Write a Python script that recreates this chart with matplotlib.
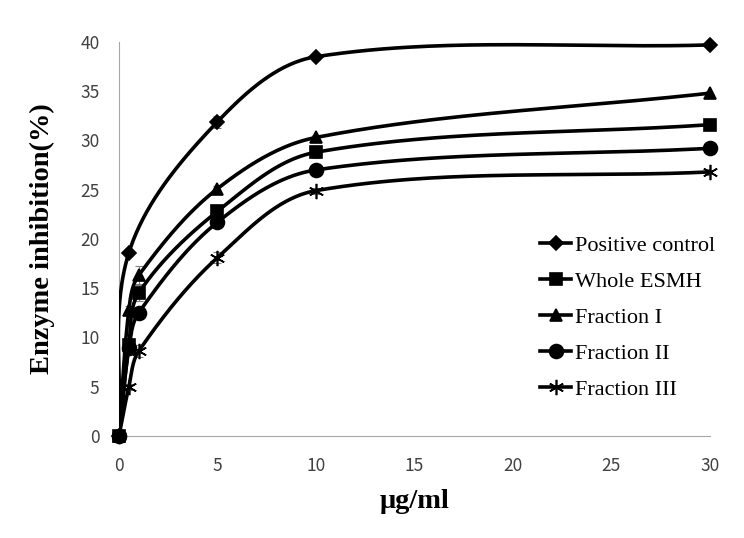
import numpy as np
import matplotlib.pyplot as plt

# concentrations (ug/ml)
x_pc = [0, 0.5, 5, 10, 30]
x_fr = [0, 0.5, 1, 5, 10, 30]

pos_control = [0, 18.6, 31.9, 38.5, 39.7]
pos_err = [0, 0.3, 0.6, 0.3, 0.2]
whole_esmh = [0, 9.2, 14.5, 22.8, 28.8, 31.6]
whole_err = [0, 0.4, 0.8, 0.4, 0.6, 0.2]
frac1 = [0, 12.8, 16.3, 25.1, 30.3, 34.8]
frac1_err = [0, 0.4, 0.9, 0.3, 0.3, 0.2]
frac2 = [0, 8.9, 12.5, 21.7, 27.0, 29.2]
frac2_err = [0, 0.3, 0.4, 0.3, 0.6, 0.2]
frac3 = [0, 5.0, 8.6, 18.1, 24.9, 26.8]
frac3_err = [0, 0.3, 0.6, 0.6, 0.3, 0.3]

labels = ['Positive control', 'Whole ESMH', 'Fraction I', 'Fraction II', 'Fraction III']
markers = ['D', 's', '^', 'o', (6, 2, 0)]
msizes = [7, 9, 9, 10, 11]

SX, SY = 591 / 30, 394 / 40  # pixel scale, smoothing is done in screen space


def smooth(xs, ys, n=60):
    # smoothed line: cubic bezier through the points, tangent length ~ 1/3 of the segment
    pts = np.column_stack([np.asarray(xs, float) * SX, np.asarray(ys, float) * SY])
    k = len(pts)
    tang = []
    for i in range(k):
        a = pts[max(i - 1, 0)]
        b = pts[min(i + 1, k - 1)]
        d = b - a
        tang.append(d / np.hypot(*d))
    out = []
    for i in range(k - 1):
        p1, p2 = pts[i], pts[i + 1]
        L = np.hypot(*(p2 - p1)) / 3
        c1 = p1 + tang[i] * L
        c2 = p2 - tang[i + 1] * L
        t = np.linspace(0, 1, n)[:, None]
        out.append((1 - t) ** 3 * p1 + 3 * (1 - t) ** 2 * t * c1 + 3 * (1 - t) * t ** 2 * c2 + t ** 3 * p2)
    s = np.vstack(out)
    return s[:, 0] / SX, s[:, 1] / SY


fig = plt.figure(figsize=(7.44, 5.38), dpi=100)
ax = fig.add_axes([0.16, 0.19, 0.794, 0.732])

series = [(x_pc, pos_control, pos_err), (x_fr, whole_esmh, whole_err),
          (x_fr, frac1, frac1_err), (x_fr, frac2, frac2_err), (x_fr, frac3, frac3_err)]
zo = [4, 8, 6, 5, 4]

for (xs, ys, es), lab, m, ms, z in zip(series, labels, markers, msizes, zo):
    ax.errorbar(xs, ys, yerr=es, fmt='none', ecolor='#808080', elinewidth=0.8, capsize=3, capthick=0.8, zorder=2)
    sx, sy = smooth(xs, ys)
    ax.plot(sx, sy, color='k', lw=2.6, zorder=3)
    ax.plot(xs, ys, ls='none', marker=m, color='k', ms=ms, mew=1.2, zorder=z, clip_on=False)
    ax.plot([], [], color='k', lw=2.6, marker=m, ms=ms, mew=1.2, label=lab)

ax.set_xlim(0, 30)
ax.set_ylim(0, 40)
ax.set_xticks([0, 5, 10, 15, 20, 25, 30])
ax.set_yticks(range(0, 41, 5))
for s in ['top', 'right']:
    ax.spines[s].set_visible(False)
ax.spines['left'].set_color('#a6a6a6')
ax.spines['bottom'].set_color('#a6a6a6')
ax.tick_params(length=0, labelsize=12.5, colors='#404040')
for t in ax.get_xticklabels() + ax.get_yticklabels():
    t.set_family(['Noto Sans CJK KR', 'DejaVu Sans'])
ax.tick_params(axis='x', pad=15)
ax.tick_params(axis='y', pad=14)

ax.set_xlabel('μg/ml', fontsize=20.5, fontweight='bold', family='Liberation Serif', labelpad=10)
ax.set_ylabel('Enzyme inhibition(%)', fontsize=20.5, fontweight='bold', family='Liberation Serif')
ax.yaxis.set_label_coords(-0.108, 0.5)

ax.legend(loc='upper left', bbox_to_anchor=(0.698, 0.532), frameon=False,
          prop={'family': 'Liberation Serif', 'size': 16}, handlelength=1.4,
          handletextpad=0.15, labelspacing=0.7, borderaxespad=0)

fig.savefig('out.png', dpi=100)
